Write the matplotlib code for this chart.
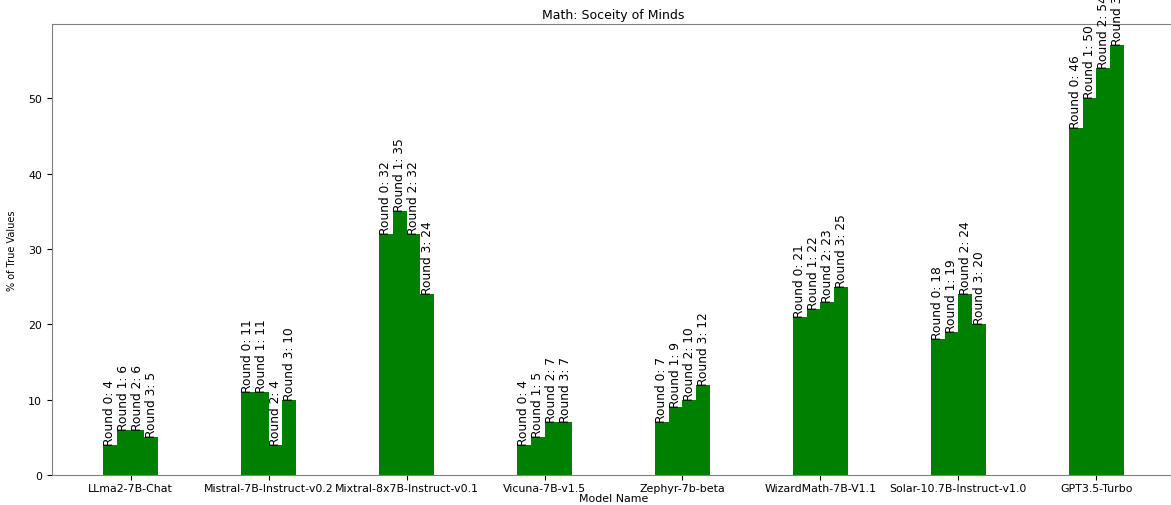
import numpy as np
import matplotlib
matplotlib.use("Agg")
import matplotlib.pyplot as plt

models = ["LLma2-7B-Chat", "Mistral-7B-Instruct-v0.2", "Mixtral-8x7B-Instruct-v0.1",
          "Vicuna-7B-v1.5", "Zephyr-7b-beta", "WizardMath-7B-V1.1",
          "Solar-10.7B-Instruct-v1.0", "GPT3.5-Turbo"]
round0 = [4, 11, 32, 4, 7, 21, 18, 46]
round1 = [6, 11, 35, 5, 9, 22, 19, 50]
round2 = [6, 4, 32, 7, 10, 23, 24, 54]
round3 = [5, 10, 24, 7, 12, 25, 20, 57]
rounds = [round0, round1, round2, round3]

fig = plt.figure(figsize=(11.71, 5.06), dpi=100)
# axes runs a bit past the right edge, like the cropped original
ax = fig.add_axes([52 / 1171, 30 / 506, 1123 / 1171, 451 / 506])

x = np.arange(len(models))
w = 0.1
for i, vals in enumerate(rounds):
    pos = x + (i - 1.5) * w
    bars = ax.bar(pos, vals, w, color="green")
    for b, v in zip(bars, vals):
        ax.text(b.get_x() + b.get_width() / 2, v, f"Round {i}: {v}",
                rotation=90, ha="center", va="bottom", fontsize=8.8)

ax.set_xticks(x)
ax.set_xticklabels(models, fontsize=7.9)
ax.tick_params(axis="x", pad=2)
ax.tick_params(axis="y", labelsize=7.9)
ax.set_xlabel("Model Name", fontsize=7.9, labelpad=0)
ax.set_ylabel("% of True Values", fontsize=7, labelpad=8)
ax.set_title("Math: Soceity of Minds", fontsize=9, pad=4)
for s in ax.spines.values():
    s.set_color("#808080")

fig.savefig("out.png", dpi=100)
